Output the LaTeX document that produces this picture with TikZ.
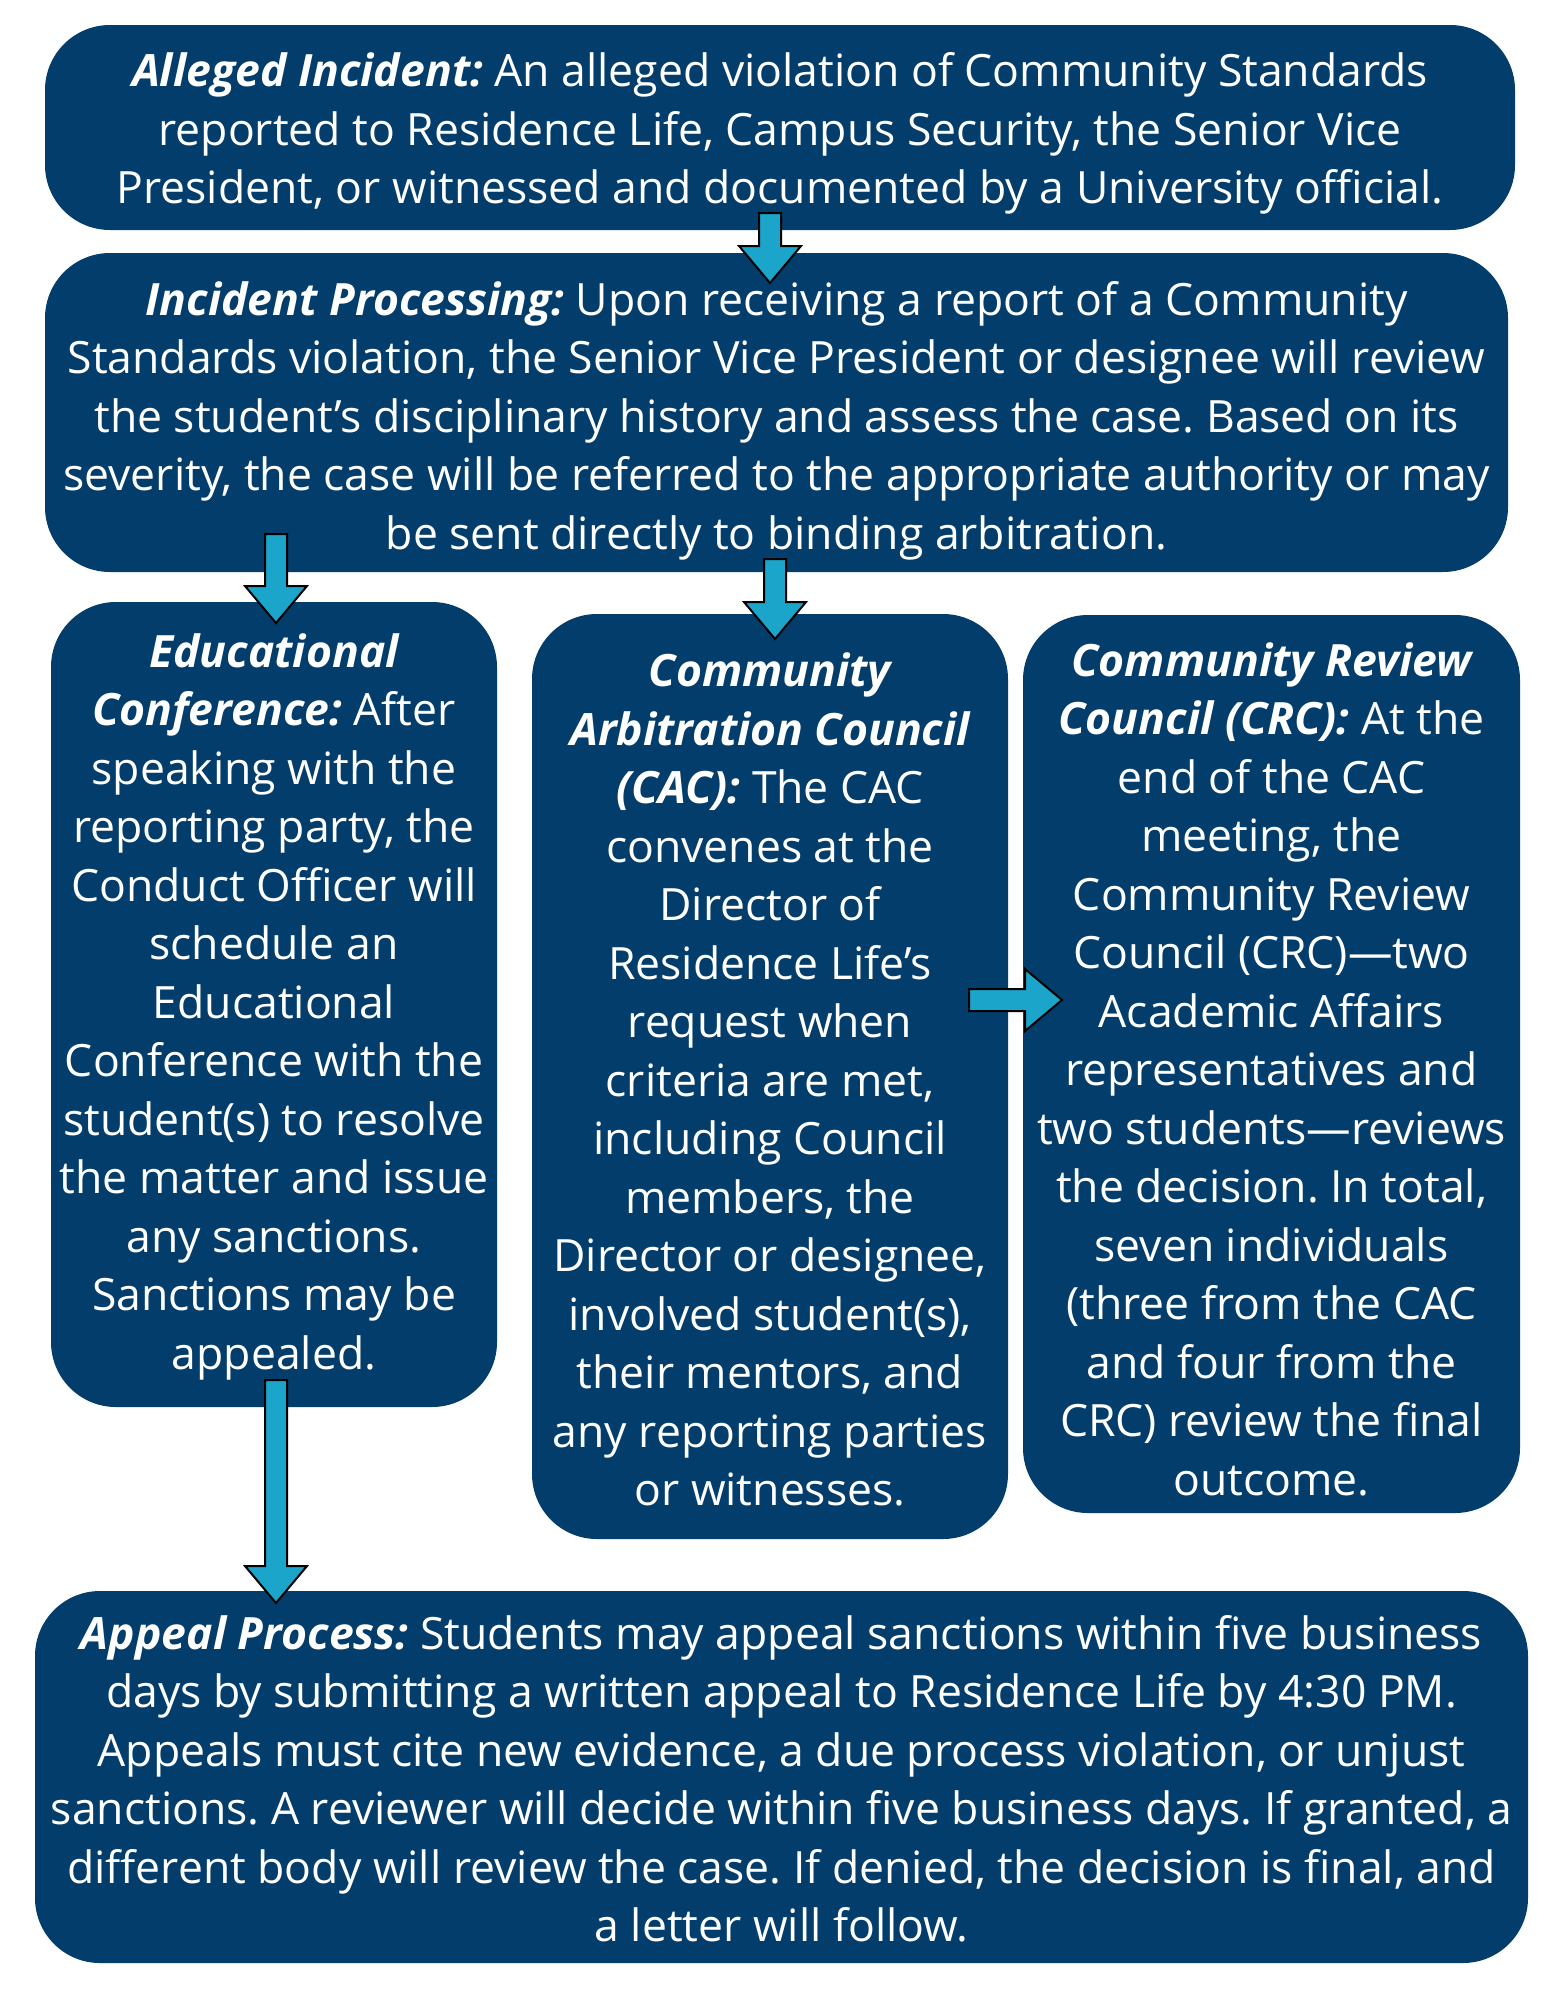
\documentclass[tikz,border=0pt]{standalone}
\usepackage{fontspec}
\setmainfont{Open Sans}
\usetikzlibrary{calc}
\definecolor{navy}{HTML}{033D6B}
\definecolor{aqua}{HTML}{1BA5CB}
\tikzset{
  box/.style={fill=navy, rounded corners=65pt, inner sep=0pt},
  txt/.style={inner sep=0pt, text=white, align=center,
    font=\fontsize{44.5}{58.5}\selectfont},
  barrow/.style={fill=aqua, draw=black, line width=2pt, line join=miter},
}
\newcommand\downblock[2]{\draw[barrow] let \p1=(#1), \p2=(#2) in
  (\x1-11pt,\y1) -- (\x1+11pt,\y1) -- (\x1+11pt,\y2+37pt) -- (\x1+31pt,\y2+37pt)
  -- (\x1,\y2) -- (\x1-31pt,\y2+37pt) -- (\x1-11pt,\y2+37pt) -- cycle;}
\newcommand\rightblock[2]{\draw[barrow] let \p1=(#1), \p2=(#2) in
  (\x1,\y1+11pt) -- (\x2-37pt,\y1+11pt) -- (\x2-37pt,\y1+31pt) -- (\x2,\y1)
  -- (\x2-37pt,\y1-31pt) -- (\x2-37pt,\y1-11pt) -- (\x1,\y1-11pt) -- cycle;}
\newcommand\lab[1]{{\bfseries\itshape #1}}
\frenchspacing
\begin{document}
\begin{tikzpicture}[x=1pt,y=-1pt]
\useasboundingbox (0,0) rectangle (1545,2000);

\node[box, minimum width=1470pt, minimum height=205pt] (b1) at (780,127.5) {};
\node[txt] (t1) at ($(b1.center)+(0,6)$)
{\lab{Alleged Incident:} An alleged violation of Community Standards\\
reported to Residence Life, Campus Security, the Senior Vice\\
President, or witnessed and documented by a University official.};

\node[box, minimum width=1463pt, minimum height=319pt] (b2) at (776.5,412.5) {};
\node[txt] (t2) at ($(b2.center)+(0,8)$)
{\lab{Incident Processing:} Upon receiving a report of a Community\\
Standards violation, the Senior Vice President or designee will review\\
the student’s disciplinary history and assess the case. Based on its\\
severity, the case will be referred to the appropriate authority or may\\
be sent directly to binding arbitration.};

\node[box, minimum width=446pt, minimum height=805pt] (b3) at (274,1004.5) {};
\node[txt] (t3) at ($(b3.center)+(0,2)$)
{\lab{Educational}\\
\lab{Conference:} After\\
speaking with the\\
reporting party, the\\
Conduct Officer will\\
schedule an\\
Educational\\
Conference with the\\
student(s) to resolve\\
the matter and issue\\
any sanctions.\\
Sanctions may be\\
appealed.};

\node[box, minimum width=476pt, minimum height=925pt] (b4) at (770,1076.5) {};
\node[txt] (t4) at ($(b4.center)+(0,3)$)
{\lab{Community}\\
\lab{Arbitration Council}\\
\lab{(CAC):} The CAC\\
convenes at the\\
Director of\\
Residence Life’s\\
request when\\
criteria are met,\\
including Council\\
members, the\\
Director or designee,\\
involved student(s),\\
their mentors, and\\
any reporting parties\\
or witnesses.};

\node[box, minimum width=497pt, minimum height=898pt] (b5) at (1271.5,1064) {};
\node[txt] (t5) at ($(b5.center)+(0,5)$)
{\lab{Community Review}\\
\lab{Council (CRC):} At the\\
end of the CAC\\
meeting, the\\
Community Review\\
Council (CRC)—two\\
Academic Affairs\\
representatives and\\
two students—reviews\\
the decision. In total,\\
seven individuals\\
(three from the CAC\\
and four from the\\
CRC) review the final\\
outcome.};

\node[box, minimum width=1493pt, minimum height=372pt] (b6) at (781.5,1777) {};
\node[txt] (t6) at ($(b6.center)+(0,2)$)
{\lab{Appeal Process:} Students may appeal sanctions within five business\\
days by submitting a written appeal to Residence Life by 4:30 PM.\\
Appeals must cite new evidence, a due process violation, or unjust\\
sanctions. A reviewer will decide within five business days. If granted, a\\
different body will review the case. If denied, the decision is final, and\\
a letter will follow.};

\coordinate (a1s) at (770,213);  \coordinate (a1e) at (770,283);
\coordinate (a2s) at (276,534);  \coordinate (a2e) at (276,623);
\coordinate (a3s) at (775,559);  \coordinate (a3e) at (775,639);
\coordinate (a4s) at (276,1380); \coordinate (a4e) at (276,1603);
\coordinate (a5s) at (969,1000); \coordinate (a5e) at (1062,1000);

\downblock{a1s}{a1e}
\downblock{a2s}{a2e}
\downblock{a3s}{a3e}
\downblock{a4s}{a4e}
\rightblock{a5s}{a5e}
\end{tikzpicture}
\end{document}
